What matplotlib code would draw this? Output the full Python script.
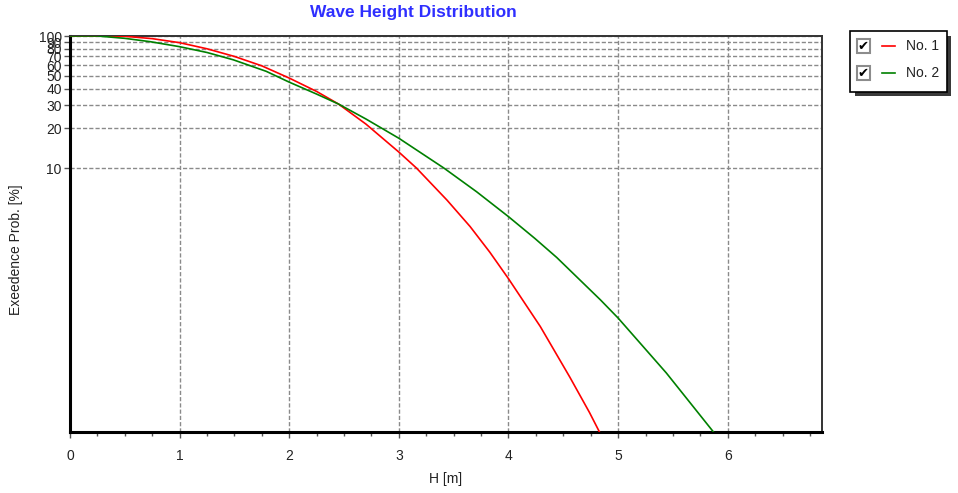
import matplotlib.pyplot as plt
from matplotlib.patches import Rectangle
from matplotlib.ticker import FixedLocator, FixedFormatter, MultipleLocator, NullLocator

plt.rcParams['font.family'] = ['Liberation Sans', 'DejaVu Sans']

# exceedance curves, H in metres and probability in percent
h_no1 = [0.0, 0.3, 0.5, 0.75, 1.0, 1.25, 1.5, 1.75, 2.0, 2.25, 2.45, 2.7, 3.0,
         3.16, 3.44, 3.65, 3.83, 4.0, 4.29, 4.56, 4.74, 4.83]
p_no1 = [100, 100, 99.5, 95.5, 89, 80, 70, 59.4, 48, 38, 30.5, 21.5, 13.2,
         10, 5.7, 3.6, 2.3, 1.45, 0.63, 0.26, 0.14, 0.1]

h_no2 = [0.0, 0.25, 0.5, 0.73, 1.0, 1.25, 1.49, 1.79, 2.0, 2.25, 2.45, 2.7,
         3.0, 3.41, 3.71, 4.0, 4.24, 4.44, 4.84, 5.0, 5.44, 5.87]
p_no2 = [100, 100, 96, 90.6, 83, 75, 66, 54, 44.7, 36.3, 30.5, 23.5,
         16.8, 10, 6.6, 4.28, 2.93, 2.1, 1.0, 0.73, 0.28, 0.1]

series_names = ['No. 1', 'No. 2']
series_colors = ['#ff0000', '#008000']

y_ticks = [10, 20, 30, 40, 50, 60, 70, 80, 90, 100]
x_ticks = [0, 1, 2, 3, 4, 5, 6]

W, H = 958, 493
fig = plt.figure(figsize=(W / 100, H / 100), dpi=100)
fig.patch.set_facecolor('white')

ax = fig.add_axes([70 / W, 1 - 432 / H, (822 - 70) / W, (432 - 36) / H])

ax.plot(h_no1, p_no1, color=series_colors[0], lw=1.2, zorder=3, solid_joinstyle='round')
ax.plot(h_no2, p_no2, color=series_colors[1], lw=1.2, zorder=3, solid_joinstyle='round')

ax.set_yscale('log')
ax.set_ylim(0.1, 100)
ax.set_xlim(0, 6.86)

ax.yaxis.set_major_locator(FixedLocator(y_ticks))
ax.yaxis.set_major_formatter(FixedFormatter([str(v) for v in y_ticks]))
ax.yaxis.set_minor_locator(NullLocator())
ax.xaxis.set_major_locator(FixedLocator(x_ticks))
ax.xaxis.set_minor_locator(MultipleLocator(0.25))

ax.grid(True, which='major', color='#8a8a8a', lw=1.0, linestyle=(0, (3, 1.5)))
ax.set_axisbelow(True)

ax.tick_params(axis='both', which='major', labelsize=10, labelcolor='#222222',
               color='#555555', length=4, width=1)
ax.tick_params(axis='x', which='minor', color='#555555', length=3, width=1)
ax.tick_params(axis='y', pad=2)
ax.tick_params(axis='x', pad=8)

ax.spines['left'].set_linewidth(2.2)
ax.spines['bottom'].set_linewidth(2.2)
ax.spines['left'].set_color('black')
ax.spines['bottom'].set_color('black')
for side in ['top', 'right']:
    ax.spines[side].set_linewidth(1.4)
    ax.spines[side].set_color('#333333')

ax.set_xlabel('H [m]', fontsize=10, color='#222222')
ax.set_ylabel('Exeedence Prob. [%]', fontsize=10, color='#222222')
ax.xaxis.set_label_coords(0.5, -0.1)
ax.yaxis.set_label_coords(-0.063, 0.46)

fig.text(413 / W, 1 - 13 / H, 'Wave Height Distribution', ha='center', va='center',
         fontsize=12.5, fontweight='bold', color='#2f2fff')

# legend panel with check boxes, drawn in pixel coordinates
ov = fig.add_axes([0, 0, 1, 1], zorder=5)
ov.set_xlim(0, W)
ov.set_ylim(H, 0)
ov.axis('off')
ov.add_patch(Rectangle((855, 36), 96, 60, facecolor='#3a3a3a', edgecolor='none'))
ov.add_patch(Rectangle((850, 31), 97, 61, facecolor='white', edgecolor='black', lw=1.2))
for i, (name, col) in enumerate(zip(series_names, series_colors)):
    yc = 46 + i * 27
    ov.add_patch(Rectangle((857, yc - 7), 13, 14, facecolor='white', edgecolor='#8c8c8c', lw=1.5))
    ov.text(863.5, yc + 0.5, '\u2714', ha='center', va='center', fontsize=9.5,
            color='black', family='DejaVu Sans')
    ov.plot([882, 895], [yc, yc], color=col, lw=1.2)
    ov.text(906, yc, name, ha='left', va='center', fontsize=10, color='#222222')

fig.savefig('out.png', dpi=100, facecolor='white')
